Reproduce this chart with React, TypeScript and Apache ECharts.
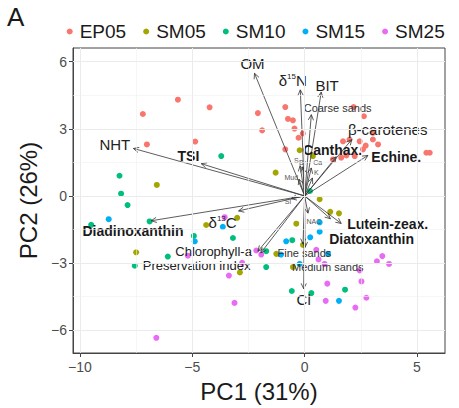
import React, { useEffect, useRef } from 'react';
import * as echarts from 'echarts';

// Sample groups and their ggplot-style hues
const groups = ['EP05', 'SM05', 'SM10', 'SM15', 'SM25'];
const groupColors = ['#F8766D', '#A3A500', '#00BF7D', '#00B0F6', '#E76BF3'];

// PCA scores (PC1, PC2) per group
const ep05: number[][] = [
  [-5.64, 4.3], [-7.2, 3.66], [-4.23, 3.96], [-2.08, 3.7], [-1.89, 2.93], [-7.02, 2.3], [-4.87, 2.43],
  [-0.86, 3.97], [-0.74, 3.44], [-0.52, 3.38], [-0.45, 3.01], [-0.27, 2.6], [-0.08, 2.79], [-0.86, 2.08],
  [2.18, 3.97], [2.64, 3.56], [1.71, 2.44], [2.0, 2.52], [2.45, 2.44], [2.72, 2.25], [3.04, 2.52],
  [3.04, 2.82], [3.27, 2.3], [2.6, 2.08], [1.86, 1.81], [1.63, 1.71], [2.23, 1.78], [5.42, 1.93],
  [5.57, 1.93], [1.26, 1.63],
];
const sm05: number[][] = [
  [-6.58, 0.49], [-4.38, -1.3], [-3.0, -0.98], [-7.5, -2.52], [-2.88, -3.42], [-0.22, 2.04], [0.37, 1.78],
  [-1.29, 1.04], [0.67, -0.15], [1.14, -0.71], [1.53, -0.78], [-0.37, -1.24], [-0.07, -2.19],
  [-1.26, -2.59], [-0.52, -3.18],
];
const sm10: number[][] = [
  [-3.71, 1.78], [-8.24, 0.9], [-8.17, 0.1], [-7.88, -0.41], [-9.5, -1.29], [-6.9, -1.14], [-4.93, -1.79],
  [-3.19, -1.88], [-6.09, -2.71], [-7.56, -3.12], [-0.55, -1.98], [-1.71, -2.47], [-1.71, -3.18],
  [1.8, -4.19], [-0.57, -4.25], [0.3, -4.34], [0.24, 0.22],
];
const sm15: number[][] = [
  [-8.72, -1.04], [-3.64, -1.38], [-4.89, -2.03], [0.67, -1.18], [0.67, -1.6], [0.25, -1.85],
  [-0.82, -2.03], [1.04, -2.59], [-0.22, -3.04], [1.53, -4.69], [-1.05, -2.62],
];
const sm25: number[][] = [
  [-3.56, -0.95], [-5.2, -2.67], [-2.15, -2.44], [-1.93, -2.62], [-2.78, -2.99], [-3.37, -3.56],
  [-3.12, -4.78], [-6.6, -6.34], [0.52, -2.41], [0.62, -2.84], [0.89, -3.04], [2.45, -3.33],
  [3.22, -2.92], [3.46, -2.69], [3.76, -3.04], [1.01, -3.92], [2.53, -3.82], [0.94, -4.69],
  [2.75, -4.55], [2.26, -4.99],
];
const groupScores = [ep05, sm05, sm10, sm15, sm25];

// Variable loadings (arrow tips, scaled to the score space)
const loadingNames = [
  'OM', 'δ15N', 'BIT', 'Coarse sands', 'β-carotenes', 'Canthax.', 'Echine.', 'NHT', 'TSI',
  'Diadinoxanthin', 'δ13C', 'Chlorophyll-a', 'Preservation index', 'Lutein-zeax.', 'Diatoxanthin',
  'Fine sands', 'Medium sands', 'Cl', 'NAC', 'S', 'Br', 'Ca', 'Mud', 'K', 'Si',
];
const loadingTips: number[][] = [
  [-2.23, 5.48], [-0.19, 4.74], [0.74, 4.64], [0.3, 3.63], [2.1, 2.52], [1.41, 1.75], [2.82, 1.81],
  [-7.62, 2.12], [-4.6, 1.44], [-6.83, -1.11], [-2.94, -0.67], [-2.08, -2.47], [-1.95, -2.55],
  [1.63, -1.23], [1.15, -1.02], [-0.07, -2.15], [0.02, -2.3], [-0.04, -4.15], [0.15, -0.77],
  [-0.2, 1.35], [-0.08, 1.3], [0.3, 1.25], [-0.25, 0.75], [0.35, 0.8], [-0.6, -0.12],
];
// Where each variable name sits (repelled label anchors, score space)
const loadingLabelAt: number[][] = [
  [-2.32, 5.9], [-0.53, 5.16], [1.0, 4.92], [1.47, 3.93], [3.7, 2.97], [1.25, 2.04], [4.08, 1.76],
  [-8.45, 2.3], [-5.17, 1.78], [-7.64, -1.56], [-3.65, -1.17], [-4.05, -2.49], [-4.81, -3.09],
  [3.7, -1.26], [2.98, -1.92], [-0.01, -2.56], [1.03, -3.19], [-0.04, -4.65], [0.41, -1.13],
  [-0.37, 1.6], [-0.09, 1.49], [0.58, 1.49], [-0.59, 0.82], [0.52, 1.04], [-0.74, -0.26],
];

const xTicks = [-10, -5, 0, 5];
const yTicks = [-6, -3, 0, 3, 6];
const xMinor = [-7.5, -2.5, 2.5];
const yMinor = [-4.5, -1.5, 1.5, 4.5];

const FONT = 'Liberation Sans, Arial, Helvetica, sans-serif';
const boldNames = new Set(['TSI', 'Diadinoxanthin', 'Canthax.', 'Echine.', 'Lutein-zeax.', 'Diatoxanthin']);
const mediumNames = new Set(['Chlorophyll-a', 'Preservation index']);
const smallNames = new Set(['Coarse sands', 'Fine sands', 'Medium sands']);
const tinyNames = new Set(['NAC', 'S', 'Br', 'Ca', 'Mud', 'K', 'Si']);

function labelStyle(name: string) {
  if (tinyNames.has(name)) return { size: 7, weight: 'normal', color: '#555' };
  if (smallNames.has(name)) return { size: 11, weight: 'normal', color: '#333' };
  if (mediumNames.has(name)) return { size: 13, weight: 'normal', color: '#222' };
  if (boldNames.has(name)) return { size: 14, weight: 'bold', color: '#1a1a1a' };
  return { size: 15, weight: 'normal', color: '#222' };
}

// isotope names get a superscript mass number
function richText(name: string) {
  const m = name.match(/^δ(\d+)([A-Z])$/);
  if (m) return `{n|δ}{s|${m[1]}}{n|${m[2]}}`;
  return `{n|${name}}`;
}

const minus = (v: number) => String(v).replace('-', '\u2212');

export default function App() {
  const ref = useRef<HTMLDivElement>(null);

  useEffect(() => {
    if (!ref.current) return;
    const chart = echarts.init(ref.current, undefined, { renderer: 'svg' });

    const gridLines = [
      ...xTicks.map((v) => ({ xAxis: v, lineStyle: { color: '#ebebeb', width: 1, type: 'solid' } })),
      ...xMinor.map((v) => ({ xAxis: v, lineStyle: { color: '#f0f0f0', width: 0.6, type: 'solid' } })),
      ...yTicks.map((v) => ({ yAxis: v, lineStyle: { color: '#ebebeb', width: 1, type: 'solid' } })),
      ...yMinor.map((v) => ({ yAxis: v, lineStyle: { color: '#f0f0f0', width: 0.6, type: 'solid' } })),
    ];

    const scatterSeries = groups.map((g, i) => ({
      name: g,
      type: 'scatter',
      data: groupScores[i],
      symbol: 'circle',
      symbolSize: 6,
      itemStyle: { color: groupColors[i], opacity: 1 },
      z: 2,
      silent: true,
    }));

    const option: any = {
      animation: false,
      textStyle: { fontFamily: FONT },
      graphic: [
        {
          type: 'text',
          left: 7,
          top: 4,
          style: { text: 'A', fontSize: 26, fontFamily: FONT, fill: '#1a1a1a' },
        },
      ],
      legend: {
        data: groups,
        left: 66.7,
        top: 22,
        width: 420,
        padding: 0,
        icon: 'circle',
        itemWidth: 10,
        itemHeight: 6,
        itemGap: 17,
        textStyle: { fontSize: 19, color: '#1a1a1a', fontFamily: FONT },
      },
      grid: {
        left: 73,
        right: 14,
        top: 48,
        bottom: 53,
        show: true,
        borderColor: '#444',
        borderWidth: 1,
        backgroundColor: 'transparent',
      },
      xAxis: {
        type: 'value',
        min: -10.31,
        max: 6.25,
        name: 'PC1 (31%)',
        nameLocation: 'middle',
        nameGap: 26,
        nameTextStyle: { fontSize: 24, color: '#1a1a1a', fontFamily: FONT },
        axisLine: { show: true, onZero: false, lineStyle: { color: '#444', width: 1 } },
        axisTick: { show: true, length: 4, customValues: xTicks, lineStyle: { color: '#444' } },
        axisLabel: {
          customValues: xTicks,
          formatter: minus,
          color: '#4d4d4d',
          fontSize: 14,
          margin: 7,
          fontFamily: FONT,
        },
        splitLine: { show: false },
      },
      yAxis: {
        type: 'value',
        min: -7.02,
        max: 6.61,
        name: 'PC2 (26%)',
        nameLocation: 'middle',
        nameGap: 27,
        nameTextStyle: { fontSize: 24, color: '#1a1a1a', fontFamily: FONT },
        axisLine: { show: true, onZero: false, lineStyle: { color: '#444', width: 1 } },
        axisTick: { show: true, length: 4, customValues: yTicks, lineStyle: { color: '#444' } },
        axisLabel: {
          customValues: yTicks,
          formatter: minus,
          color: '#4d4d4d',
          fontSize: 14,
          margin: 6,
          fontFamily: FONT,
        },
        splitLine: { show: false },
      },
      series: [
        {
          name: 'grid',
          type: 'scatter',
          data: [],
          silent: true,
          z: 0,
          markLine: {
            silent: true,
            symbol: 'none',
            animation: false,
            label: { show: false },
            data: gridLines,
          },
        },
        ...scatterSeries,
        {
          name: 'loadings',
          type: 'custom',
          data: loadingTips,
          z: 3,
          silent: true,
          clip: false,
          renderItem: (_params: any, api: any) => {
            const o = api.coord([0, 0]);
            const t = api.coord([api.value(0), api.value(1)]);
            const ang = Math.atan2(t[1] - o[1], t[0] - o[0]);
            const L = 6;
            const a = Math.PI / 7;
            const p1 = [t[0] - L * Math.cos(ang - a), t[1] - L * Math.sin(ang - a)];
            const p2 = [t[0] - L * Math.cos(ang + a), t[1] - L * Math.sin(ang + a)];
            return {
              type: 'group',
              children: [
                {
                  type: 'line',
                  shape: { x1: o[0], y1: o[1], x2: t[0], y2: t[1] },
                  style: { stroke: '#333', lineWidth: 0.8 },
                },
                {
                  type: 'polyline',
                  shape: { points: [p1, t, p2] },
                  style: { stroke: '#333', lineWidth: 0.8, fill: null },
                },
              ],
            };
          },
        },
        {
          name: 'loading labels',
          type: 'custom',
          data: loadingLabelAt,
          z: 4,
          silent: true,
          clip: false,
          renderItem: (params: any, api: any) => {
            const p = api.coord([api.value(0), api.value(1)]);
            const name = loadingNames[params.dataIndex];
            const s = labelStyle(name);
            return {
              type: 'text',
              x: p[0],
              y: p[1],
              style: {
                text: richText(name),
                align: 'center',
                verticalAlign: 'middle',
                fill: s.color,
                fontSize: s.size,
                fontWeight: s.weight,
                fontFamily: FONT,
                rich: {
                  n: { fontSize: s.size, fontWeight: s.weight, fontFamily: FONT, fill: s.color, color: s.color },
                  s: {
                    fontSize: Math.round(s.size * 0.55),
                    fontFamily: FONT,
                    fill: s.color,
                    color: s.color,
                    verticalAlign: 'top',
                  },
                },
              },
            };
          },
        },
      ],
    };

    chart.setOption(option);
    return () => chart.dispose();
  }, []);

  return (
    <div
      ref={ref}
      style={{ position: 'fixed', left: 0, top: 0, width: 459, height: 408, background: '#fff' }}
    />
  );
}
